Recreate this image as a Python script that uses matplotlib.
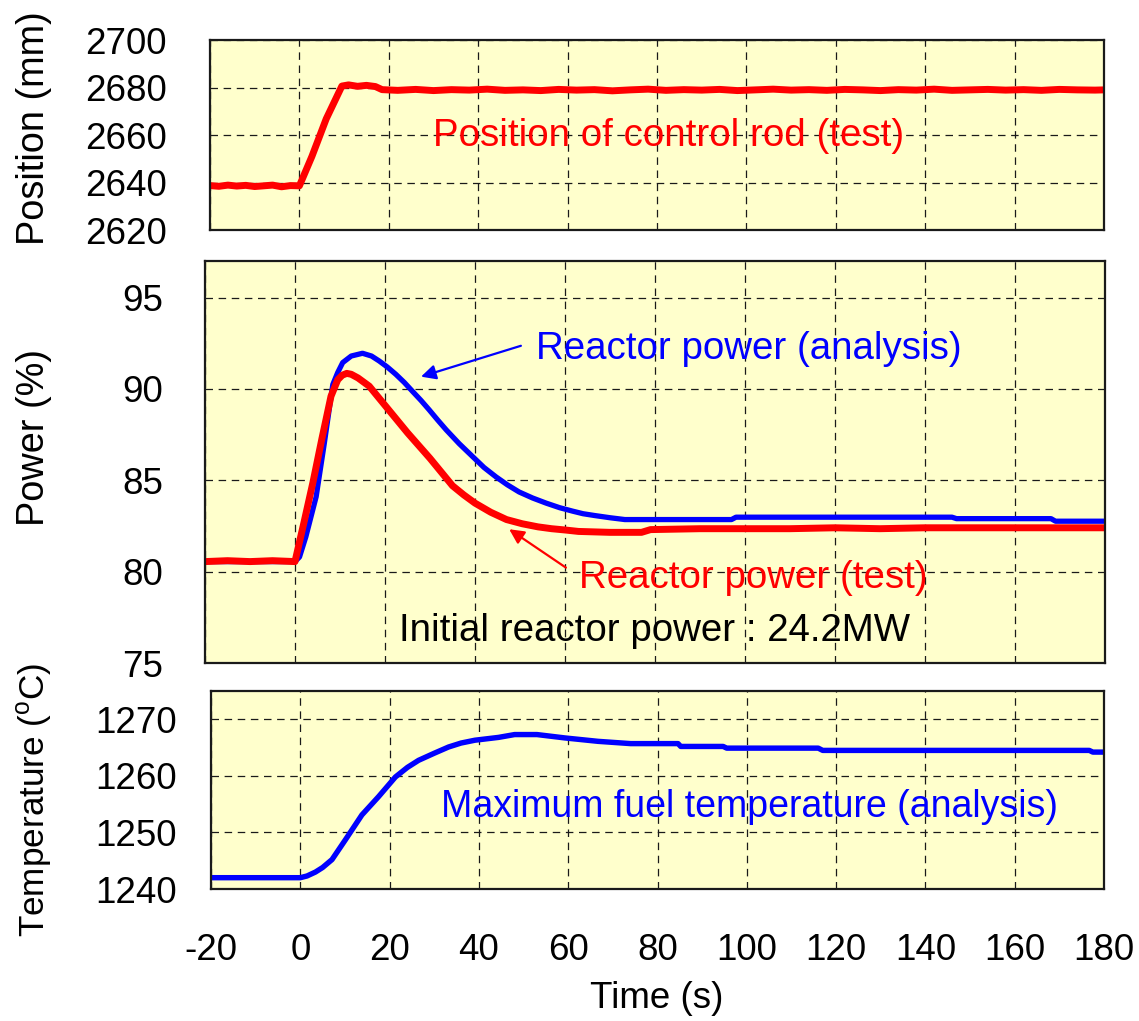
import matplotlib
matplotlib.use("Agg")
import matplotlib.pyplot as plt
from matplotlib.ticker import FixedLocator

plt.rcParams['font.family'] = ['Liberation Sans', 'DejaVu Sans']
plt.rcParams['mathtext.fontset'] = 'custom'
plt.rcParams['mathtext.rm'] = 'Liberation Sans'
plt.rcParams['axes.unicode_minus'] = False

# ---------------- data ----------------
x_ticks = [-20, 0, 20, 40, 60, 80, 100, 120, 140, 160, 180]

# control rod position (test)
rod_t = [-20, -18, -16, -14, -12, -10, -8, -6, -4, -2, 0, 2.8, 6, 9.5, 11, 13, 15, 17, 18.5,
         22, 26, 30, 34, 38, 42, 46, 50, 54, 58, 62, 66, 70, 74, 78, 82, 86, 90, 94, 98,
         102, 106, 110, 114, 118, 122, 126, 130, 134, 138, 142, 146, 150, 154, 158, 162,
         166, 170, 174, 178, 180]
rod_pos = [2638.7, 2638.4, 2638.9, 2638.5, 2638.8, 2638.3, 2638.6, 2638.9, 2638.2, 2638.7, 2638.6,
           2651.0, 2666.8, 2680.6, 2681.1, 2680.5, 2680.9, 2680.4, 2679.1,
           2678.8, 2679.2, 2678.7, 2679.1, 2678.9, 2679.3, 2678.8, 2679.0, 2678.7, 2679.2,
           2678.9, 2679.1, 2678.6, 2679.0, 2679.3, 2678.8, 2679.1, 2678.9, 2679.2, 2678.7,
           2679.0, 2679.3, 2678.9, 2679.1, 2678.8, 2679.2, 2679.0, 2678.7, 2679.1, 2678.9,
           2679.3, 2678.8, 2679.0, 2679.2, 2678.9, 2679.1, 2678.8, 2679.2, 2679.0, 2678.9, 2679.0]

# reactor power (analysis)
pa_t = [-20, 0, 1, 2.4, 4.7, 6.5, 8.4, 9.5, 10.6, 12.5, 15, 17, 18.7, 20.5, 22.4, 24.3, 26.1,
        28, 29.8, 31.7, 33.6, 36.5, 39.5, 42, 44.7, 47.2, 49.8, 52.8, 55.8, 58.8, 61.7, 64,
        66.6, 70, 73.3, 97, 98, 146, 147, 168, 169, 180]
pa_v = [80.55, 80.55, 80.8, 81.9, 84.1, 87.0, 90.24, 90.9, 91.44, 91.8, 91.95, 91.8, 91.53,
        91.2, 90.8, 90.35, 89.87, 89.37, 88.86, 88.3, 87.76, 87.0, 86.29, 85.7, 85.18, 84.75,
        84.36, 84.03, 83.75, 83.5, 83.31, 83.17, 83.07, 82.95, 82.85, 82.85,
        82.98, 82.98, 82.9, 82.9, 82.76, 82.76]

# reactor power (test)
pt_t = [-20, -15, -10, -5, 0, 2, 4, 6, 8, 9.5, 10.5, 11.5, 12.5, 14, 16.5, 18, 20, 22.5, 25,
        27.5, 30, 32.5, 35, 37.5, 40, 43.5, 47, 50.5, 54, 57, 60, 63, 70, 77, 79, 90, 100,
        110, 120, 130, 140, 150, 160, 170, 180]
pt_v = [80.55, 80.6, 80.55, 80.6, 80.55, 82.7, 84.9, 87.3, 89.6, 90.5, 90.75, 90.85, 90.8,
        90.6, 90.15, 89.7, 89.1, 88.35, 87.6, 86.9, 86.2, 85.45, 84.7, 84.2, 83.75, 83.25,
        82.85, 82.62, 82.45, 82.35, 82.28, 82.2, 82.15, 82.15, 82.3,
        82.35, 82.35, 82.35, 82.4, 82.35, 82.4, 82.4, 82.4, 82.4, 82.4]

# maximum fuel temperature (analysis)
tf_t = [-20, 0, 1.5, 3.4, 5, 7.1, 10.1, 13.8, 17.5, 21.3, 24, 26.5, 30, 33.2, 36, 39.1, 44.4,
        48, 53, 59.3, 66.7, 74, 78, 84.6, 85.2, 94.7, 95.5, 116, 117, 176.7, 177.5, 180]
tf_v = [1242, 1242, 1242.3, 1243, 1243.8, 1245.2, 1248.7, 1253.1, 1256.3, 1259.8, 1261.5,
        1262.75, 1264.0, 1265.1, 1265.8, 1266.3, 1266.8, 1267.3, 1267.3, 1266.7, 1266.1,
        1265.7, 1265.7, 1265.7, 1265.2, 1265.2, 1264.9, 1264.9, 1264.5, 1264.5, 1264.2, 1264.2]

RED = '#FF0000'
BLUE = '#0000FF'
BG = '#FFFFCC'
FS = 26.5
FA = 27.7

W, H = 1139, 1021
fig = plt.figure(figsize=(W / 100, H / 100), dpi=100)


def box(l, r, t, b):
    return [l / W, 1 - b / H, (r - l) / W, (b - t) / H]


ax1 = fig.add_axes(box(210, 1104, 40, 230))
ax2 = fig.add_axes(box(205, 1105, 261, 663))
ax3 = fig.add_axes(box(211, 1104, 691, 889))


def style(ax, ylim, yticks, ypad, xlabels):
    ax.set_facecolor(BG)
    ax.set_xlim(-20, 180)
    ax.set_ylim(*ylim)
    ax.xaxis.set_major_locator(FixedLocator(x_ticks))
    ax.yaxis.set_major_locator(FixedLocator(yticks))
    ax.grid(True, color='0.1', linestyle=(0, (6, 4.5)), linewidth=0.9)
    ax.set_axisbelow(True)
    for s in ax.spines.values():
        s.set_linewidth(1.6)
        s.set_color('0.1')
    ax.tick_params(axis='y', length=0, pad=ypad, labelsize=FS)
    ax.tick_params(axis='x', length=0, pad=32, labelsize=FS, labelbottom=xlabels)


style(ax1, (2620, 2700), [2620, 2640, 2660, 2680, 2700], 31, False)
style(ax2, (75, 97), [75, 80, 85, 90, 95], 30, False)
style(ax3, (1240, 1275), [1240, 1250, 1260, 1270], 24.5, True)

# top panel
ax1.plot(rod_t, rod_pos, color=RED, lw=5.0, solid_joinstyle='round')
ax1.text(29.8, 2659.6, 'Position of control rod (test)', color=RED, fontsize=FA,
         ha='left', va='center')

# middle panel
ax2.plot(pa_t, pa_v, color=BLUE, lw=3.8, solid_joinstyle='round')
ax2.plot(pt_t, pt_v, color=RED, lw=5.0, solid_joinstyle='round')
ax2.annotate('', xy=(28.0, 90.67), xytext=(50.2, 92.36),
             arrowprops=dict(arrowstyle='-|>', color=BLUE, lw=1.6, mutation_scale=22,
                             shrinkA=0, shrinkB=0))
ax2.annotate('', xy=(47.6, 82.32), xytext=(60.2, 80.22),
             arrowprops=dict(arrowstyle='-|>', color=RED, lw=1.6, mutation_scale=22,
                             shrinkA=0, shrinkB=0))
ax2.text(53.6, 92.17, 'Reactor power (analysis)', color=BLUE, fontsize=FA,
         ha='left', va='center')
ax2.text(63.2, 79.65, 'Reactor power (test)', color=RED, fontsize=FA,
         ha='left', va='center')
ax2.text(23.2, 76.73, 'Initial reactor power : 24.2MW', color='black', fontsize=FA,
         ha='left', va='center')

# bottom panel
ax3.plot(tf_t, tf_v, color=BLUE, lw=3.9, solid_joinstyle='round')
ax3.text(31.6, 1254.5, 'Maximum fuel temperature (analysis)', color=BLUE, fontsize=27.0,
         ha='left', va='center')

# axis labels
fig.text(34 / W, 1 - 128 / H, 'Position (mm)', rotation=90, ha='center', va='center',
         fontsize=FS + 0.8)
fig.text(34 / W, 1 - 438 / H, 'Power (%)', rotation=90, ha='center', va='center',
         fontsize=FS + 0.8)
fig.text(34 / W, 1 - 800 / H, r'Temperature ($\mathregular{^{o}}$C)', rotation=90,
         ha='center', va='center', fontsize=FS - 1.2)
fig.text(657 / W, 1 - 998 / H, 'Time (s)', ha='center', va='center', fontsize=FS)

fig.savefig('out.png', dpi=100, facecolor='white')
